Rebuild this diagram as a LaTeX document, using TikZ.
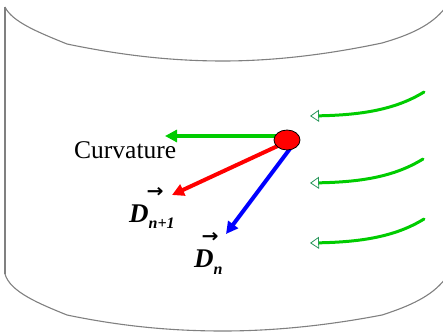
\documentclass[tikz,border=0pt]{standalone}
\usepackage{fontspec}
\usepackage{graphicx}
\setmainfont{Liberation Serif}
\newfontfamily\symfont{DejaVu Sans}
\usetikzlibrary{arrows.meta,shapes.geometric}
\definecolor{brgreen}{RGB}{0,204,0}
\definecolor{tipgreen}{RGB}{40,150,90}
\definecolor{outl}{RGB}{128,128,128}
\tikzset{
  outline/.style={draw=outl, line width=1.1pt},
  vecarrow/.style={line width=4pt, -{Triangle[length=12pt,width=12pt]}},
  flowarrow/.style={draw=brgreen, line width=3pt, line cap=round,
     -{Triangle[length=9pt,width=12pt,fill=white,color=tipgreen,line width=0.8pt]}},
  lbl/.style={inner sep=0pt, anchor=base west, font=\fontsize{25.5}{30}\selectfont},
  dlbl/.style={inner sep=0pt, anchor=base west, font=\fontsize{27}{30}\selectfont\bfseries\itshape},
  arr/.style={inner sep=0pt, font=\symfont\bfseries}
}
\begin{document}
\begin{tikzpicture}[x=1pt,y=-1pt]
\useasboundingbox (0,0) rectangle (443,331);
% cylinder outline
\draw[outline] (5,7) .. controls (12,22) and (40,33) .. (67,44)
  .. controls (120,55) and (170,61) .. (223,61)
  .. controls (276,61) and (330,54) .. (382,43)
  .. controls (410,35) and (432,25) .. (445,8);
\draw[outline] (5,7) -- (5,274);
\draw[outline] (5,274) .. controls (10,292) and (40,304) .. (67,315)
  .. controls (120,326) and (170,331) .. (223,331)
  .. controls (276,331) and (330,325) .. (382,315)
  .. controls (410,306) and (432,296) .. (445,279);
% point and vectors
\coordinate (pc) at (287,140);
\coordinate (gs) at (283,136);
\coordinate (gt) at (165,136);
\coordinate (rs) at (282,144);
\coordinate (rt) at (172,195);
\coordinate (bs) at (292,146);
\coordinate (bt) at (226,234);
\draw[vecarrow, draw=brgreen, fill=brgreen] (gs) -- (gt);
\draw[vecarrow, draw=red, fill=red] (rs) -- (rt);
\draw[vecarrow, draw=blue, fill=blue] (bs) -- (bt);
\node[ellipse, draw=black, line width=0.8pt, fill=red, minimum width=26pt, minimum height=20pt, inner sep=0pt] (p) at (pc) {};
% labels
\node[lbl] (curv) at (74,158) {Curvature};
\node[dlbl] (dn1) at (129,222) {D\raisebox{-6pt}{\fontsize{16}{18}\selectfont n+1}};
\node[arr] (dn1a) at (155,192) {\resizebox{17pt}{10pt}{→}};
\node[dlbl] (dn) at (194,267) {D\raisebox{-7pt}{\fontsize{16}{18}\selectfont n}};
\node[arr] (dna) at (210,237) {\resizebox{17pt}{10pt}{→}};
% flow arrows
\coordinate (f1s) at (424,92);
\coordinate (f1t) at (310,116);
\coordinate (f2s) at (423,159);
\coordinate (f2t) at (310,183);
\coordinate (f3s) at (424,219);
\coordinate (f3t) at (310,243);
\draw[flowarrow] (f1s) .. controls (395,110) and (360,115) .. (f1t);
\draw[flowarrow] (f2s) .. controls (394,177) and (360,182) .. (f2t);
\draw[flowarrow] (f3s) .. controls (395,237) and (360,242) .. (f3t);
\end{tikzpicture}
\end{document}
